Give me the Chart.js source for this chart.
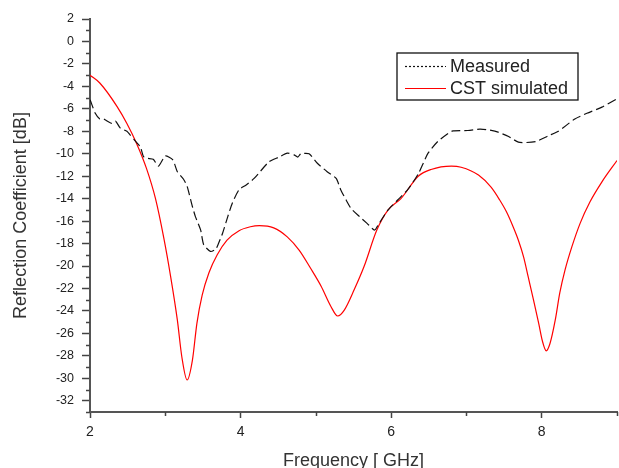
<!DOCTYPE html>
<html>
<head>
<meta charset="utf-8">
<script src="https://cdn.jsdelivr.net/npm/chart.js@4.4.1/dist/chart.umd.min.js"></script>
<style>
  html, body { margin: 0; padding: 0; background: #fff; overflow: hidden; }
  #wrap { width: 619px; height: 468px; position: relative; }
</style>
</head>
<body>
<div id="wrap"><canvas id="c" width="619" height="468"></canvas></div>
<script>
// ---- data ----
const seriesLabels = ["Measured", "CST simulated"];

const measuredFreq = [2.0, 2.01, 2.07, 2.13, 2.18, 2.29, 2.34, 2.4, 2.49, 2.53, 2.6, 2.67, 2.71, 2.76, 2.84, 2.91, 3.0, 3.1, 3.16, 3.24, 3.29, 3.36, 3.4, 3.47, 3.51, 3.6, 3.67, 3.7, 3.76, 3.83, 3.89, 3.98, 4.07, 4.18, 4.38, 4.51, 4.62, 4.71, 4.76, 4.8, 4.91, 5.02, 5.15, 5.27, 5.33, 5.4, 5.47, 5.58, 5.68, 5.78, 5.84, 5.96, 6.09, 6.22, 6.36, 6.49, 6.62, 6.76, 6.82, 7.02, 7.18, 7.29, 7.42, 7.56, 7.69, 7.8, 7.93, 8.09, 8.22, 8.44, 8.6, 8.8, 9.0];
const measuredDb   = [-5.2, -5.35, -6.4, -6.9, -6.9, -7.3, -7.1, -7.7, -8.0, -8.3, -8.85, -9.4, -10.25, -10.4, -10.5, -11.1, -10.2, -10.55, -11.6, -12.25, -12.9, -14.7, -15.6, -16.8, -18.1, -18.7, -18.5, -18.1, -17.1, -15.6, -14.4, -13.2, -12.8, -12.2, -10.7, -10.3, -9.95, -10.1, -10.3, -10.0, -10.0, -10.85, -11.6, -12.2, -13.2, -14.1, -14.9, -15.6, -16.2, -16.8, -16.2, -15.0, -14.1, -13.2, -11.8, -9.95, -8.9, -8.17, -7.96, -7.93, -7.8, -7.87, -8.08, -8.47, -8.97, -9.0, -8.9, -8.4, -8.0, -6.9, -6.4, -5.85, -5.1];

const simFreq = [2.0, 2.13, 2.36, 2.49, 2.62, 2.75, 2.87, 2.98, 3.07, 3.16, 3.22, 3.29, 3.36, 3.42, 3.49, 3.58, 3.69, 3.82, 3.98, 4.13, 4.25, 4.44, 4.62, 4.78, 4.93, 5.07, 5.2, 5.29, 5.38, 5.51, 5.64, 5.81, 5.96, 6.13, 6.36, 6.53, 6.8, 6.93, 7.16, 7.33, 7.44, 7.53, 7.62, 7.69, 7.76, 7.82, 7.89, 7.96, 8.01, 8.06, 8.11, 8.18, 8.24, 8.31, 8.4, 8.51, 8.64, 8.8, 9.0];
const simDb   = [-3.0, -3.7, -5.8, -7.3, -9.1, -11.3, -14.0, -17.5, -20.9, -24.8, -28.1, -30.15, -28.4, -25.1, -22.6, -20.6, -19.0, -17.7, -16.85, -16.5, -16.4, -16.6, -17.4, -18.6, -20.2, -21.8, -23.6, -24.45, -23.9, -22.1, -20.05, -16.8, -15.0, -14.0, -12.0, -11.4, -11.1, -11.2, -11.9, -13.0, -14.1, -15.15, -16.5, -17.7, -19.2, -20.95, -23.0, -25.1, -26.7, -27.55, -26.9, -24.8, -22.4, -20.35, -18.3, -16.2, -14.3, -12.5, -10.6];

const xTickValues = [2, 4, 6, 8];
const yTickValues = [2, 0, -2, -4, -6, -8, -10, -12, -14, -16, -18, -20, -22, -24, -26, -28, -30, -32];
const xTitle = "Frequency [ GHz]";
const yTitle = "Reflection Coefficient [dB]";

// ---- chart ----
const FONT = "'Liberation Sans', Arial, sans-serif";
const toPts = (xs, ys) => xs.map((x, i) => ({ x: x, y: ys[i] }));

const minorTicks = {
  id: 'minorTicks',
  afterDraw(chart) {
    const ctx = chart.ctx;
    const xs = chart.scales.x, ys = chart.scales.y;
    ctx.save();
    ctx.strokeStyle = '#444';
    ctx.lineWidth = 1.5;
    ctx.beginPath();
    for (let v = -33; v <= 2; v++) {
      if (yTickValues.includes(v)) continue;
      const py = Math.round(ys.getPixelForValue(v)) + 0.5;
      ctx.moveTo(xs.left - 4, py); ctx.lineTo(xs.left, py);
    }
    for (let v = 2; v <= 9; v++) {
      if (xTickValues.includes(v)) continue;
      const px = Math.round(xs.getPixelForValue(v)) + 0.5;
      ctx.moveTo(px, ys.bottom); ctx.lineTo(px, ys.bottom + 4);
    }
    ctx.stroke();
    ctx.restore();
  }
};

const boxLegend = {
  id: 'boxLegend',
  afterDraw(chart) {
    const ctx = chart.ctx;
    ctx.save();
    ctx.fillStyle = '#fff';
    ctx.fillRect(397, 53, 181, 47);
    ctx.strokeStyle = '#111';
    ctx.lineWidth = 1.3;
    ctx.strokeRect(397, 53, 181, 47);
    const rows = [66, 88];
    chart.data.datasets.forEach((ds, i) => {
      const y = rows[i] + 0.5;
      ctx.beginPath();
      ctx.strokeStyle = ds.borderColor;
      ctx.lineWidth = ds.borderWidth;
      ctx.setLineDash(i === 0 ? [2, 2] : []);
      ctx.moveTo(405, y); ctx.lineTo(446, y);
      ctx.stroke();
      ctx.setLineDash([]);
      ctx.fillStyle = '#222';
      ctx.font = '18px ' + FONT;
      ctx.textBaseline = 'middle';
      ctx.textAlign = 'left';
      ctx.fillText(ds.label, 450, rows[i] + 1);
    });
    ctx.restore();
  }
};

new Chart(document.getElementById('c'), {
  type: 'line',
  data: {
    datasets: [
      {
        label: seriesLabels[0],
        data: toPts(measuredFreq, measuredDb),
        borderColor: '#111',
        borderWidth: 1.2,
        borderDash: [9, 4],
        pointRadius: 0,
        tension: 0.2,
        fill: false
      },
      {
        label: seriesLabels[1],
        data: toPts(simFreq, simDb),
        borderColor: 'rgb(255,0,0)',
        borderWidth: 1.2,
        pointRadius: 0,
        cubicInterpolationMode: 'monotone',
        fill: false
      }
    ]
  },
  options: {
    responsive: false,
    animation: false,
    devicePixelRatio: 1,
    layout: { padding: { top: 19, right: 2, bottom: 0, left: 0 } },
    plugins: { legend: { display: false }, tooltip: { enabled: false } },
    scales: {
      x: {
        type: 'linear',
        min: 2, max: 9,
        afterFit(s) { s.height = 56; },
        afterBuildTicks(s) { s.ticks = xTickValues.map(v => ({ value: v })); },
        ticks: { stepSize: 1, color: '#222', font: { family: FONT, size: 14 }, padding: 6, maxRotation: 0,
                 callback: v => String(v) },
        grid: { drawOnChartArea: false, drawTicks: true, tickLength: 6, tickColor: '#444', tickWidth: 1.5 },
        border: { color: '#555', width: 2 },
        title: { display: true, text: xTitle, color: '#333', font: { family: FONT, size: 18, lineHeight: 0.8 }, padding: { top: 0, bottom: 0 } }
      },
      y: {
        type: 'linear',
        min: -33, max: 2,
        afterFit(s) { s.width = 90; },
        afterBuildTicks(s) { s.ticks = yTickValues.map(v => ({ value: v })); },
        ticks: { stepSize: 1, color: '#222', font: { family: FONT, size: 12.5 }, padding: 8,
                 callback: v => String(v) },
        grid: { drawOnChartArea: false, drawTicks: true, tickLength: 8, tickColor: '#444', tickWidth: 1.5 },
        border: { color: '#555', width: 2 },
        title: { display: true, text: yTitle, color: '#333', font: { family: FONT, size: 18, lineHeight: 1.2 }, padding: { top: 10, bottom: 0 } }
      }
    }
  },
  plugins: [minorTicks, boxLegend]
});
</script>
</body>
</html>
